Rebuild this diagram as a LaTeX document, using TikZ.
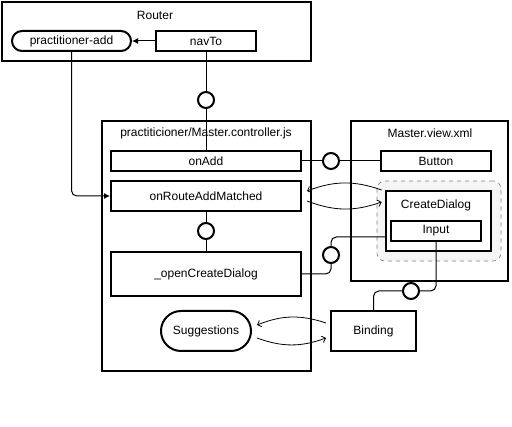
\documentclass[tikz,border=0pt]{standalone}
\usepackage{fontspec}
\setmainfont{Liberation Sans}
\usetikzlibrary{positioning,arrows.meta,calc}

\begin{document}
\begin{tikzpicture}[x=0.75pt,y=-0.75pt,>=Latex,
  font=\fontsize{9}{11}\selectfont,
  frame/.style={draw,line width=1.5pt,inner sep=0pt},
  box/.style={draw,line width=1.5pt,inner sep=0pt,minimum width=142.5pt,minimum height=15pt},
  pill/.style={draw,line width=1.5pt,inner sep=0pt,minimum height=15pt,rounded corners=7.5pt},
  port/.style={circle,draw,line width=1.5pt,fill=white,minimum size=12pt,inner sep=0pt},
  link/.style={line width=0.75pt},
  flow/.style={line width=0.6pt,-{Straight Barb[length=2.5pt,width=5pt]},bend right=20}]
  \useasboundingbox (0,0) rectangle (512,427);

  \node[frame,minimum width=231.75pt,minimum height=44.25pt] (router) at (156.5,31.5) {};
  \node at (155,15) (routerlbl) {Router};
  \node[pill,minimum width=89.25pt] (padd) at (71.5,41) {practitioner-add};
  \node[frame,minimum width=75pt,minimum height=15pt] (navto) at (206,41) {navTo};

  \node[frame,minimum width=156.75pt,minimum height=187.5pt] (ctrl) at (206.5,246) {};
  \node at (206,133) (ctrllbl) {practiticioner/Master.controller.js};
  \node[box] (onadd) at (206,161) {onAdd};
  \node[box,minimum height=22.5pt] (onroute) at (206,196) {onRouteAddMatched};
  \node[box,minimum height=33pt] (opendlg) at (206,274) {\_openCreateDialog};
  \node[pill,minimum width=67.5pt,minimum height=30pt,rounded corners=15pt] (sugg) at (206,331) {Suggestions};
  \node[frame,minimum width=63.75pt,minimum height=30pt] (binding) at (373.5,331) {Binding};

  \node[frame,minimum width=117.75pt,minimum height=120pt] (view) at (429.5,201) {};
  \node at (430,133) (viewlbl) {Master.view.xml};
  \node[frame,minimum width=82.5pt,minimum height=15pt] (button) at (436,161) {Button};
  \node[draw=gray,dashed,line width=0.5pt,fill=gray!8,rounded corners=6pt,minimum width=93pt,minimum height=60pt] (area) at (439,221) {};
  \node[frame,fill=white,minimum width=78.75pt,minimum height=45pt] (dialog) at (438.5,221) {};
  \node at (436,205) (dialoglbl) {CreateDialog};
  \node[frame,minimum width=67.5pt,minimum height=15pt] (input) at (436,231) {Input};

  \node[port] (c1) at (206,100) {};
  \node[port] (c2) at (331,161) {};
  \node[port] (c3) at (206,231) {};
  \node[port] (c4) at (331,255) {};
  \node[port] (c5) at (411,291) {};

  \draw[link,-{Latex[length=4.5pt,width=4.5pt]}] (navto) -- (padd);
  \draw[link] (navto.south) -- (c1.north);
  \draw[link] (c1.south) -- (onadd.north);
  \draw[link,rounded corners=4pt,-{Latex[length=4.5pt,width=4.5pt]}] (padd.south) |- (onroute.west);
  \draw[link] (onadd.east) -- (c2.west);
  \draw[link] (c2.east) -- (button.west);
  \draw[link] (onroute.south) -- (c3.north);
  \draw[link] (c3.south) -- (opendlg.north);
  \draw[link,rounded corners=4pt] (opendlg.east) -| (c4.south);
  \draw[link,rounded corners=4pt] (c4.north) |- ($(dialog.west)+(0,16)$);
  \draw[link,rounded corners=4pt] (input.south) |- (c5.east);
  \draw[link,rounded corners=4pt] (c5.west) -| (binding.north);

  \draw[flow] ($(area.west)+(5,-31)$) to ($(onroute.east)+(5,-5)$);
  \draw[flow] ($(onroute.east)+(5,5)$) to ($(area.west)+(5,-19)$);
  \draw[flow] ($(binding.west)+(-4,-8)$) to ($(sugg.east)+(5,-6)$);
  \draw[flow] ($(sugg.east)+(5,7)$) to ($(binding.west)+(-4,7)$);
\end{tikzpicture}
\end{document}
